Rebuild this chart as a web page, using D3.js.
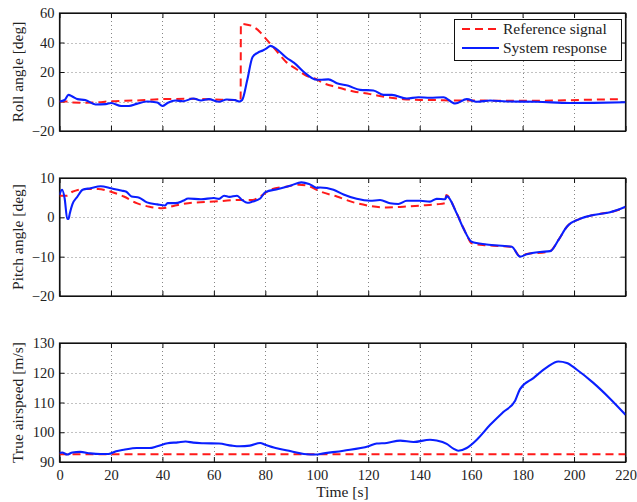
<!DOCTYPE html>
<html>
<head>
<meta charset="utf-8">
<script src="https://cdn.jsdelivr.net/npm/d3@7"></script>
<style>
  body { margin: 0; background: #fff; }
  svg text { font-family: "Liberation Serif", "DejaVu Serif", serif; fill: #222; }
</style>
</head>
<body>
<div id="chartDiv"></div>
<script>
// time axis ticks
const timeTicks = [0, 20, 40, 60, 80, 100, 120, 140, 160, 180, 200, 220];

// roll angle [deg]
const rollRef = [[0,0],[3,0],[5,-0.7],[10,-0.8],[15,-0.6],[20,0.2],[30,0.7],[40,1.6],[50,1.8],[60,1.4],[68,1],[70.4,1],
  [70.5,52.6],[72,52.4],[75,51],[78,47],[80,43],[84,35],[88,27],[92,22],[96,17.4],[100,15],[101.3,13.6],[107.8,9.7],
  [114.3,6.8],[120.7,5],[127.2,2.9],[133.7,1.6],[140.2,1.1],[146.6,1],[153.1,0.7],[159.6,0.7],[172.5,0.5],[185.5,0.5],
  [198.4,0.9],[211.4,1.4],[218,1.6]];
const rollSys = [[0,0],[2,1],[3.5,4.5],[5,3.4],[7,1.6],[10,1],[14,-2],[18,-1.8],[20,-1],[24,-3],[27,-3],[30,-1.6],[34,0],
  [38,-0.7],[40,-3],[42,-1],[45,0.7],[48,0.2],[52,2],[55,0.7],[58,1.6],[62,-0.2],[65,1.4],[68,1],[70,0],[71,1],[73,14.7],
  [75,30],[77,33],[79,34.6],[80.5,36],[82,37.7],[84,36],[88,30],[92,25],[95,20],[100,14.7],[101.3,14.7],[104.5,15],
  [107.8,12.4],[112.3,10.6],[116.8,7.9],[122,7.5],[125.9,4.5],[129.2,4.5],[135,2],[139.5,2.9],[144,2.5],[149.2,2.9],
  [153.8,-1.4],[158.3,1.6],[162.2,-0.2],[167.4,0.7],[173.8,0],[185.5,-0.2],[198.4,-1],[207.5,-0.9],[220,-0.5]];

// pitch angle [deg]
const pitchRef = [[0,5.5],[3,5.5],[5,6.5],[10,7.2],[15,7.2],[20,6.5],[25,5.3],[30,3.6],[35,2.7],[40,2.3],[45,3],[50,3.6],
  [60,4],[70,4.4],[75,4.4],[78,5.3],[82,7],[88,7.8],[93,8.3],[97,7.9],[100,7],[101.3,6.6],[107.8,5.3],[114.3,3.8],
  [120.7,2.9],[127.2,2.5],[133.7,2.7],[140.2,3],[146.6,3.3],[149.9,3.6],[150.3,5.7],[154.4,1],[158.3,-4.5],[160.2,-6.6],
  [166,-7.1],[175.8,-7.5],[179,-9.9],[181.6,-9.3],[189.4,-8.8],[190.7,-8.6],[193.9,-5.8],[197.2,-2.4],[202.3,-0.4],
  [207.5,0.6],[214,1.3],[220,2.5]];
const pitchSys = [[0,5.7],[1,7],[2,4.8],[3,-0.3],[3.5,-0.4],[4,1],[5,3.3],[7,5.3],[9,7],[12,7.4],[16,7.9],[20,7.4],
  [24,6.8],[26,6.5],[28,5.3],[31,5],[34,3.8],[38,3.3],[41,3],[42,3.6],[45,3.6],[48,4.2],[50,4.8],[55,4.6],[60,4.9],
  [62,4.7],[64,5.5],[66,5.2],[69,5.5],[71,4.4],[73,3.7],[75,4],[78,4.8],[80,6.4],[85,7.2],[90,8.1],[94,8.9],[97,8.5],
  [100,7.5],[101.3,7.6],[106.5,7],[110.4,5.8],[115.5,4.7],[120.7,4.2],[124.6,4.4],[128.5,3.6],[131.7,3.4],[135,4.2],
  [140.2,4.2],[144,4],[146.6,4.7],[149.9,4.6],[150.5,5.4],[154.4,1],[157,-2.8],[160.2,-6.2],[166,-6.9],[175.8,-7.5],
  [179,-10],[181.6,-9.4],[186.8,-8.8],[190.7,-8.6],[193.9,-5.8],[197.2,-2.4],[202.3,-0.4],[207.5,0.6],[214,1.3],[220,2.7]];

// true airspeed [m/s]
const speedRef = [[0,92.6],[220,92.6]];
const speedSys = [[0,93],[1,93.2],[3,92.5],[5,93.2],[8,93.4],[12,92.9],[16,92.7],[19,92.7],[22,93.6],[25,94.1],[30,94.7],
  [35,94.7],[38,95.3],[42,96.3],[46,96.6],[49,96.9],[52,96.5],[56,96.3],[62,96.2],[67,95.5],[70,95.3],[74,95.5],[78,96.4],
  [80,95.8],[84,94.7],[90,93.6],[95,92.7],[100,92.5],[101.3,92.7],[110.4,93.8],[120.1,95.3],[123.3,96.2],[127.2,96.4],
  [132.4,97.2],[137.6,96.7],[144,97.5],[146.6,97.2],[150.5,96.1],[153.1,94.5],[155,93.8],[158.3,94.7],[162.2,97.5],
  [167.4,102.5],[172.5,106.8],[177.1,110.6],[179,114.5],[184.2,118.2],[189.4,121.8],[193.9,123.8],[197.2,123.3],
  [201,121.1],[207.5,116.6],[214,111.3],[220,105.9]];

const panels = [
  { label: 'Roll angle [deg]', top: 13, bottom: 131, domain: [-20, 60], ticks: [-20, 0, 20, 40, 60], ref: rollRef, sys: rollSys },
  { label: 'Pitch angle [deg]', top: 178, bottom: 296, domain: [-20, 10], ticks: [-20, -10, 0, 10], ref: pitchRef, sys: pitchSys },
  { label: 'True airspeed [m/s]', top: 343, bottom: 462, domain: [90, 130], ticks: [90, 100, 110, 120, 130], ref: speedRef, sys: speedSys }
];

const width = 637, height = 502;
const left = 59.5, right = 625.5;

const svg = d3.select('#chartDiv').append('svg')
  .attr('width', width).attr('height', height);

const x = d3.scaleLinear().domain([0, 220]).range([left, right]);
const fmt = d => d < 0 ? '\u2212' + Math.abs(d) : '' + d;

panels.forEach((p, i) => {
  const y = d3.scaleLinear().domain(p.domain).range([p.bottom, p.top]);
  const g = svg.append('g');

  // dotted grid
  g.append('g').selectAll('line').data(timeTicks.slice(1, -1)).join('line')
    .attr('x1', d => Math.round(x(d)) + 0.5).attr('x2', d => Math.round(x(d)) + 0.5)
    .attr('y1', p.top).attr('y2', p.bottom)
    .attr('stroke', '#666').attr('stroke-width', 0.8).attr('stroke-dasharray', '1,3');
  g.append('g').selectAll('line').data(p.ticks.slice(1, -1)).join('line')
    .attr('x1', left).attr('x2', right)
    .attr('y1', d => Math.round(y(d)) + 0.5).attr('y2', d => Math.round(y(d)) + 0.5)
    .attr('stroke', '#666').attr('stroke-width', 0.8).attr('stroke-dasharray', '1,3');

  // axes with inward ticks on every side
  const fmtX = i === 2 ? d => d : () => '';
  g.append('g').attr('transform', `translate(0,${p.bottom})`)
    .call(d3.axisBottom(x).tickValues(timeTicks).tickSizeInner(-5).tickSizeOuter(0).tickFormat(fmtX).tickPadding(8));
  g.append('g').attr('transform', `translate(0,${p.top})`)
    .call(d3.axisTop(x).tickValues(timeTicks).tickSizeInner(-5).tickSizeOuter(0).tickFormat(''));
  g.append('g').attr('transform', `translate(${left},0)`)
    .call(d3.axisLeft(y).tickValues(p.ticks).tickSizeInner(-5).tickSizeOuter(0).tickFormat(fmt).tickPadding(5));
  g.append('g').attr('transform', `translate(${right},0)`)
    .call(d3.axisRight(y).tickValues(p.ticks).tickSizeInner(-5).tickSizeOuter(0).tickFormat(''));
  g.selectAll('.tick text').attr('font-size', 14.5).attr('font-family', '"Liberation Serif", serif').attr('fill', '#222');
  g.selectAll('.domain').attr('stroke', '#111');
  g.selectAll('.tick line').attr('stroke', '#111');

  g.append('rect')
    .attr('x', left).attr('y', p.top).attr('width', right - left).attr('height', p.bottom - p.top)
    .attr('fill', 'none').attr('stroke', '#111').attr('stroke-width', 1.2);

  const line = d3.line().x(d => x(d[0])).y(d => y(d[1])).curve(d3.curveMonotoneX);
  const clipId = 'clip' + i;
  svg.append('clipPath').attr('id', clipId).append('rect')
    .attr('x', left).attr('y', p.top - 2).attr('width', right - left).attr('height', p.bottom - p.top + 4);

  g.append('path').datum(p.ref).attr('d', line).attr('clip-path', `url(#${clipId})`)
    .attr('fill', 'none').attr('stroke', '#ff1a1a').attr('stroke-width', 2).attr('stroke-dasharray', '8,5');
  g.append('path').datum(p.sys).attr('d', line).attr('clip-path', `url(#${clipId})`)
    .attr('fill', 'none').attr('stroke', '#0a1fff').attr('stroke-width', 2.1).attr('stroke-linejoin', 'round');

  svg.append('text')
    .attr('transform', `translate(23,${(p.top + p.bottom) / 2}) rotate(-90)`)
    .attr('text-anchor', 'middle').attr('font-size', 15.5)
    .text(p.label);
});

svg.append('text')
  .attr('x', (left + right) / 2).attr('y', 497)
  .attr('text-anchor', 'middle').attr('font-size', 15.5)
  .text('Time [s]');

// legend
const legend = svg.append('g');
legend.append('rect')
  .attr('x', 454.5).attr('y', 19.5).attr('width', 167).attr('height', 41)
  .attr('fill', '#fff').attr('stroke', '#111').attr('stroke-width', 1);
const legendItems = [
  { text: 'Reference signal', color: '#ff1a1a', dash: '8,5', y: 29 },
  { text: 'System response', color: '#0a1fff', dash: null, y: 48 }
];
legendItems.forEach(it => {
  legend.append('line')
    .attr('x1', 462).attr('x2', 499).attr('y1', it.y).attr('y2', it.y)
    .attr('stroke', it.color).attr('stroke-width', 2)
    .attr('stroke-dasharray', it.dash);
  legend.append('text')
    .attr('x', 503).attr('y', it.y + 5)
    .attr('font-size', 15.5)
    .text(it.text);
});
</script>
</body>
</html>
